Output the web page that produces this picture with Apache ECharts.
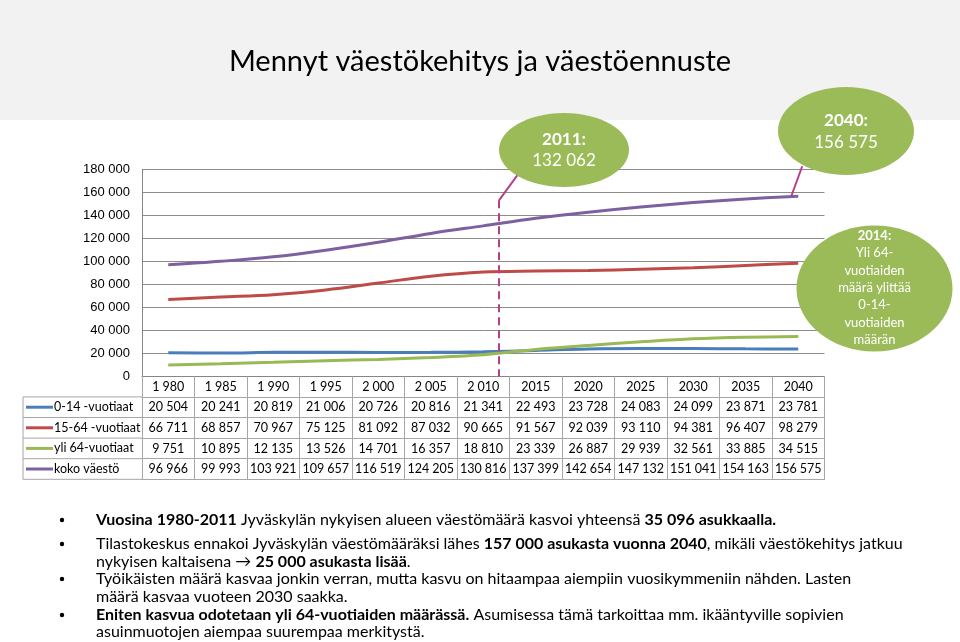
<!DOCTYPE html>
<html>
<head>
<meta charset="utf-8">
<script src="https://cdn.jsdelivr.net/npm/echarts@6/dist/echarts.min.js"></script>
<style>
html,body{margin:0;padding:0;background:#fff;}
#main{width:960px;height:642px;}
</style>
</head>
<body>
<div id="main"></div>
<script>
// ---- data ----
const categories = ['1 980','1 985','1 990','1 995','2 000','2 005','2 010','2015','2020','2025','2030','2035','2040'];
const seriesNames = ['0-14 -vuotiaat','15-64 -vuotiaat','yli 64-vuotiaat','koko väestö'];
const age0_14  = [20504,20241,20819,21006,20726,20816,21341,22493,23728,24083,24099,23871,23781];
const age15_64 = [66711,68857,70967,75125,81092,87032,90665,91567,92039,93110,94381,96407,98279];
const age65    = [9751,10895,12135,13526,14701,16357,18810,23339,26887,29939,32561,33885,34515];
const total    = [96966,99993,103921,109657,116519,124205,130816,137399,142654,147132,151041,154163,156575];
const yMax = 180000, yStep = 20000;
const callout2011 = ['2011:', '132 062'];
const callout2040 = ['2040:', '156 575'];
const callout2014 = ['2014:', 'Yli 64-', 'vuotiaiden', 'määrä ylittää', '0-14-', 'vuotiaiden', 'määrän'];
const titleText = 'Mennyt väestökehitys ja väestöennuste';

const allSeries = [age0_14, age15_64, age65, total];
const colors = ['#4a7ebb', '#be4b48', '#98b954', '#7d60a0'];
const fmt = n => String(n).replace(/\B(?=(\d{3})+(?!\d))/g, ' ');

const W = 960, H = 642;
const GL = 142, GR = 824.5, GT = 169.3, GB = 376.3;
const ROW = 20.6;
const FONT = 'Lato, "Open Sans", sans-serif';
const GRAY = '#a6a6a6';

const chart = echarts.init(document.getElementById('main'), null, {renderer: 'canvas'});

const baseX = {
  type: 'category', data: categories, gridIndex: 0, position: 'bottom', boundaryGap: true,
  splitLine: {show: false},
  axisTick: {show: true, interval: 0, length: ROW, lineStyle: {color: GRAY, width: 1}},
  axisLabel: {show: true, interval: 0, margin: 4, fontSize: 12.5, fontFamily: FONT, color: '#000'},
  axisLine: {show: true, lineStyle: {color: GRAY, width: 1}}
};
const xAxes = [];
xAxes.push(Object.assign({}, baseX, {offset: 0, axisLine: {show: true, lineStyle: {color: '#868686', width: 1}}}));
allSeries.forEach((arr, k) => {
  xAxes.push(Object.assign({}, baseX, {
    offset: (k + 1) * ROW,
    axisLabel: Object.assign({}, baseX.axisLabel, {formatter: (v, i) => fmt(arr[i])})
  }));
});
xAxes.push(Object.assign({}, baseX, {offset: 5 * ROW, axisTick: {show: false}, axisLabel: {show: false}}));

// bullets
const bulletLines = [
  {y: 520, bullet: true, t: '{b|Vuosina 1980-2011} Jyväskylän nykyisen alueen väestömäärä kasvoi yhteensä {b|35 096 asukkaalla.}'},
  {y: 544, bullet: true, t: 'Tilastokeskus ennakoi Jyväskylän väestömääräksi lähes {b|157 000 asukasta vuonna 2040}, mikäli väestökehitys jatkuu'},
  {y: 562, bullet: false, t: 'nykyisen kaltaisena → {b|25 000 asukasta lisää}.'},
  {y: 579, bullet: true, t: 'Työikäisten määrä kasvaa jonkin verran, mutta kasvu on hitaampaa aiempiin vuosikymmeniin nähden. Lasten'},
  {y: 597, bullet: false, t: 'määrä kasvaa vuoteen 2030 saakka.'},
  {y: 615, bullet: true, t: '{b|Eniten kasvua odotetaan yli 64-vuotiaiden määrässä.} Asumisessa tämä tarkoittaa mm. ikääntyville sopivien'},
  {y: 632, bullet: false, t: 'asuinmuotojen aiempaa suurempaa merkitystä.'}
];

function baseGraphics() {
  const g = [];
  g.push({type: 'rect', z: -10, silent: true, shape: {x: 0, y: 0, width: W, height: 120}, style: {fill: '#f2f2f2'}});
  g.push({type: 'text', z: 10, style: {x: 480, y: 62, text: titleText, align: 'center', verticalAlign: 'middle',
    font: '29px ' + FONT, fill: '#000'}});
  // legend column of the data table
  const top = GB + ROW, bottom = GB + 5 * ROW;
  g.push({type: 'line', shape: {x1: 23, y1: top, x2: GL, y2: top}, style: {stroke: GRAY, lineWidth: 1}});
  g.push({type: 'line', shape: {x1: 23, y1: top, x2: 23, y2: bottom}, style: {stroke: GRAY, lineWidth: 1}});
  g.push({type: 'line', shape: {x1: 23, y1: bottom, x2: GL, y2: bottom}, style: {stroke: GRAY, lineWidth: 1}});
  seriesNames.forEach((name, i) => {
    const yc = top + ROW * i + ROW / 2;
    if (i > 0) g.push({type: 'line', shape: {x1: 23, y1: top + ROW * i, x2: GL, y2: top + ROW * i}, style: {stroke: GRAY, lineWidth: 1}});
    g.push({type: 'line', shape: {x1: 26, y1: yc, x2: 53, y2: yc}, style: {stroke: colors[i], lineWidth: 3}});
    g.push({type: 'text', style: {x: 54, y: yc, text: name, align: 'left', verticalAlign: 'middle', font: '12.5px ' + FONT, fill: '#000'}});
  });
  // bullets
  bulletLines.forEach(l => {
    if (l.bullet) g.push({type: 'circle', shape: {cx: 62, cy: l.y, r: 2.2}, style: {fill: '#000'}});
    g.push({type: 'text', style: {x: 96, y: l.y, text: l.t, align: 'left', verticalAlign: 'middle',
      font: '16px ' + FONT, fill: '#000',
      rich: {b: {fontWeight: 'bold', fontSize: 16, fontFamily: FONT, fill: '#000'}}}});
  });
  return g;
}

function ellipseCallout(cx, cy, rx, ry, lines, fs, lh, firstY) {
  const g = [{type: 'ellipse', z: 20, shape: {cx, cy, rx, ry}, style: {fill: '#9bbb59'}}];
  lines.forEach((t, i) => {
    g.push({type: 'text', z: 21, style: {x: cx, y: firstY + i * lh, text: t, align: 'center', verticalAlign: 'middle',
      font: (i === 0 ? 'bold ' : '') + fs + 'px ' + FONT, fill: '#fff'}});
  });
  return g;
}

const option = {
  animation: false,
  backgroundColor: '#fff',
  grid: {left: GL, right: W - GR, top: GT, bottom: H - GB, containLabel: false},
  xAxis: xAxes,
  yAxis: {
    type: 'value', min: 0, max: yMax, interval: yStep,
    axisLine: {show: true, lineStyle: {color: '#868686'}},
    axisTick: {show: false},
    splitLine: {show: true, lineStyle: {color: '#8c8c8c', width: 1}},
    axisLabel: {formatter: v => fmt(v), fontSize: 13, fontFamily: '"Liberation Sans", Arial, sans-serif', color: '#000', margin: 12}
  },
  series: allSeries.map((arr, i) => ({
    name: seriesNames[i], type: 'line', data: arr, xAxisIndex: 0, yAxisIndex: 0,
    smooth: 0.35, symbol: 'none', lineStyle: {color: colors[i], width: 3}, itemStyle: {color: colors[i]}, z: 3
  })),
  graphic: baseGraphics()
};
chart.setOption(option);

// annotations placed via the chart's own axes
const xAt = i => chart.convertToPixel({xAxisIndex: 0}, categories[i]);
const yAt = v => chart.convertToPixel({yAxisIndex: 0}, v);
const x2011 = xAt(6) + (xAt(7) - xAt(6)) * 0.3;
const x2040 = xAt(12);
const y2040 = yAt(total[12]);
const dashTop = yAt(153000);

const extra = [];
extra.push({type: 'line', z: 15, shape: {x1: x2011, y1: dashTop, x2: x2011, y2: GB}, style: {stroke: '#b5408a', lineWidth: 2, lineDash: [8, 5]}});
extra.push({type: 'line', z: 15, shape: {x1: x2011, y1: dashTop, x2: x2011 + 19, y2: dashTop - 26}, style: {stroke: '#b5408a', lineWidth: 2}});
extra.push({type: 'line', z: 15, shape: {x1: x2040 - 7, y1: y2040, x2: x2040 + 4, y2: y2040 - 30}, style: {stroke: '#b5408a', lineWidth: 2}});
ellipseCallout(564, 150, 65, 37, callout2011, 17, 21, 140).forEach(e => extra.push(e));
ellipseCallout(846, 131, 68, 44, callout2040, 17, 22, 121).forEach(e => extra.push(e));
ellipseCallout(874.5, 288.5, 78, 63, callout2014, 13, 17.3, 236).forEach(e => extra.push(e));

chart.setOption({graphic: baseGraphics().concat(extra)});
</script>
</body>
</html>
